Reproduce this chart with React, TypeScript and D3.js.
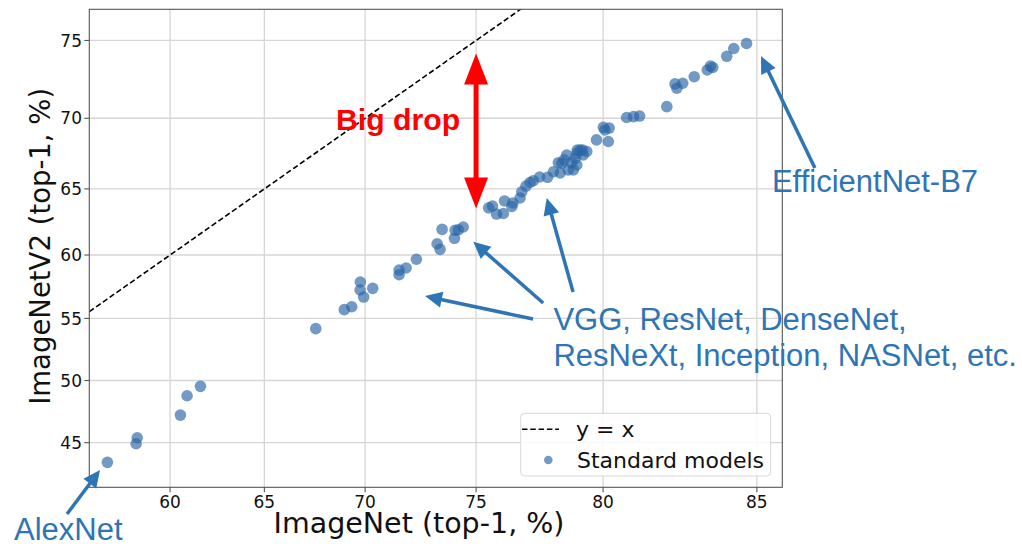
import React from 'react';
import * as d3 from 'd3';

// ImageNet (top-1, %) vs ImageNetV2 (top-1, %) for standard models
const imagenetTop1 = [
  56.55, 58.14, 58.2, 60.56, 60.92, 61.64, 67.6, 69.0, 69.36, 69.77, 69.76, 69.93, 70.36,
  71.59, 71.59, 71.91, 72.38, 73.31, 73.44, 73.53, 74.07, 74.1, 74.24, 74.45,
  75.53, 75.69, 75.86, 76.14, 76.19, 76.49, 76.53, 76.82, 76.89, 77.06, 77.22, 77.35,
  77.6, 77.91, 78.14, 78.33, 78.4, 78.46, 78.55, 78.65, 78.71, 78.84, 78.9, 78.97,
  79.03, 79.03, 79.05, 79.16, 79.25, 79.27, 79.4, 79.76, 80.01, 80.07, 80.22, 80.19,
  80.84, 81.08, 81.29, 82.21, 82.48, 82.54, 82.73, 83.1, 83.51, 83.61, 83.68, 84.11,
  84.32, 84.7,
];
const imagenetV2Top1 = [
  43.43, 44.91, 45.39, 47.21, 48.77, 49.53, 54.18, 55.7, 55.93, 57.89, 57.26, 56.7, 57.39,
  58.83, 58.46, 58.99, 59.67, 60.87, 60.44, 61.97, 61.29, 61.9, 61.94, 62.15,
  63.59, 63.73, 63.13, 63.17, 64.11, 63.7, 63.96, 64.33, 64.79, 65.21, 65.47, 65.6,
  65.87, 65.85, 66.25, 66.9, 66.16, 66.86, 67.1, 67.45, 66.38, 66.88, 66.38, 67.21,
  67.57, 66.74, 67.8, 67.8, 67.8, 67.45, 67.7, 68.51, 69.38, 69.2, 69.33, 68.4,
  70.05, 70.11, 70.15, 70.78, 72.28, 72.0, 72.32, 72.74, 73.17, 73.42, 73.33, 74.03,
  74.51, 74.82,
];
const xTicks = [60, 65, 70, 75, 80, 85];
const yTicks = [45, 50, 55, 60, 65, 70, 75];
const xDomain = [55.54, 85.72];
const yDomain = [41.46, 76.84];

// annotations in data coordinates
const bigDropArrow = { x: 75, y1: 74.2, y2: 63.55 };
const bigDropLabel = { x: 68.6, y: 69.2, text: 'Big drop' };
const effLabel = { x: 85.43, y: 64.75, text: 'EfficientNet-B7' };
const effArrow = { x1: 86.6, y1: 66.52, x2: 85.12, y2: 74.04 };
const vggLines = ['VGG, ResNet, DenseNet,', 'ResNeXt, Inception, NASNet, etc.'];
const vggLabel = { x: 78.14, y: [54.07, 51.17] };
const vggArrows = [
  { x1: 77.34, y1: 54.95, x2: 72.77, y2: 56.78 },
  { x1: 77.74, y1: 56.23, x2: 74.88, y2: 61.03 },
  { x1: 78.89, y1: 57.1, x2: 77.88, y2: 64.33 },
];
const alexLabel = { x: 51.3, y: 37.39, text: 'AlexNet' };
const alexArrow = { x1: 54.29, y1: 39.38, x2: 56.14, y2: 42.82 };

const W = 1022;
const H = 544;
const L = 89.3, R = 782.3, T = 9.3, B = 487.3;

const logit = (p: number) => Math.log(p / (100 - p));
const xLin = d3.scaleLinear().domain(xDomain.map(logit)).range([L, R]);
const yLin = d3.scaleLinear().domain(yDomain.map(logit)).range([B, T]);
const sx = (v: number) => xLin(logit(v));
const sy = (v: number) => yLin(logit(v));

const BLUE = '#2e75b6';
const DOT = '#2b66a6';

function Arrow({ x1, y1, x2, y2, color, width, headLen, headHalf, both = false }: any) {
  const dx = x2 - x1, dy = y2 - y1;
  const len = Math.hypot(dx, dy);
  const ux = dx / len, uy = dy / len;
  const px = -uy, py = ux;
  const head = (tx: number, ty: number, dirx: number, diry: number) => {
    const bx = tx - dirx * headLen, by = ty - diry * headLen;
    return `${tx},${ty} ${bx + px * headHalf},${by + py * headHalf} ${bx - px * headHalf},${by - py * headHalf}`;
  };
  const sx1 = both ? x1 + ux * (headLen - 2) : x1;
  const sy1 = both ? y1 + uy * (headLen - 2) : y1;
  return (
    <g>
      <line x1={sx1} y1={sy1} x2={x2 - ux * (headLen - 2)} y2={y2 - uy * (headLen - 2)} stroke={color} strokeWidth={width} />
      <polygon points={head(x2, y2, ux, uy)} fill={color} />
      {both && <polygon points={head(x1, y1, -ux, -uy)} fill={color} />}
    </g>
  );
}

export default function App() {
  const lo = Math.max(xDomain[0], yDomain[0]);
  const hi = Math.min(xDomain[1], yDomain[1]) + 5;
  const diag = d3.range(lo, hi, 0.25).map((v) => [v, v] as [number, number]);
  const diagLine = d3.line<[number, number]>().x((d) => sx(d[0])).y((d) => sy(d[1]));
  const pts = imagenetTop1.map((v, i) => [v, imagenetV2Top1[i]]);
  const tickFont = { fontFamily: 'DejaVu Sans', fontSize: 17, fill: '#111' };
  const annFont = { fontFamily: 'Liberation Sans, Arial, sans-serif', fontSize: 31, fill: BLUE };

  return (
    <svg width={W} height={H} style={{ position: 'absolute', left: 0, top: 0, background: '#fff' }}>
      <defs>
        <clipPath id="plot">
          <rect x={L} y={T} width={R - L} height={B - T} />
        </clipPath>
      </defs>
      <rect x={0} y={0} width={W} height={H} fill="#fff" />
      {/* grid */}
      {xTicks.map((t) => (
        <line key={'gx' + t} x1={sx(t)} x2={sx(t)} y1={T} y2={B} stroke="#d6d6d6" strokeWidth={1.3} />
      ))}
      {yTicks.map((t) => (
        <line key={'gy' + t} x1={L} x2={R} y1={sy(t)} y2={sy(t)} stroke="#d6d6d6" strokeWidth={1.3} />
      ))}
      {/* y = x */}
      <path d={diagLine(diag) || ''} fill="none" stroke="#000" strokeWidth={1.6} strokeDasharray="5.5,2.8" clipPath="url(#plot)" />
      {/* points */}
      <g clipPath="url(#plot)">
        {pts.map((d, i) => (
          <circle key={i} cx={sx(d[0])} cy={sy(d[1])} r={5.8} fill={DOT} fillOpacity={0.66} />
        ))}
      </g>
      {/* frame */}
      <rect x={L} y={T} width={R - L} height={B - T} fill="none" stroke="#555" strokeWidth={1.1} />
      {/* ticks */}
      {xTicks.map((t) => (
        <g key={'tx' + t}>
          <line x1={sx(t)} x2={sx(t)} y1={B} y2={B + 5} stroke="#555" strokeWidth={1.1} />
          <text x={sx(t)} y={508} textAnchor="middle" {...tickFont}>{t}</text>
        </g>
      ))}
      {yTicks.map((t) => (
        <g key={'ty' + t}>
          <line x1={L - 5} x2={L} y1={sy(t)} y2={sy(t)} stroke="#555" strokeWidth={1.1} />
          <text x={82} y={sy(t)} dy="0.36em" textAnchor="end" {...tickFont}>{t}</text>
        </g>
      ))}
      {/* axis labels */}
      <text x={419} y={533} textAnchor="middle" fontFamily="DejaVu Sans" fontSize={28.5} fill="#111">
        ImageNet (top-1, %)
      </text>
      <text transform={`translate(50,${(T + B) / 2 - 2}) rotate(-90)`} textAnchor="middle" fontFamily="DejaVu Sans" fontSize={27.5} fill="#111">
        ImageNetV2 (top-1, %)
      </text>
      {/* legend */}
      <g>
        <rect x={520.7} y={413.3} width={250} height={62.7} rx={4} fill="#fff" fillOpacity={0.85} stroke="#d8d8d8" strokeWidth={1} />
        <line x1={522} x2={559} y1={429.3} y2={429.3} stroke="#000" strokeWidth={1.6} strokeDasharray="5.5,2.8" />
        <text x={576} y={437} fontFamily="DejaVu Sans" fontSize={22} fill="#111">y = x</text>
        <circle cx={548.3} cy={460} r={4.3} fill={DOT} fillOpacity={0.66} />
        <text x={577} y={468} fontFamily="DejaVu Sans" fontSize={22} fill="#111">Standard models</text>
      </g>
      {/* annotations */}
      <Arrow x1={sx(bigDropArrow.x)} y1={sy(bigDropArrow.y1)} x2={sx(bigDropArrow.x)} y2={sy(bigDropArrow.y2)} color="#ff0000" width={5} headLen={31} headHalf={12} both />
      <text x={sx(bigDropLabel.x)} y={sy(bigDropLabel.y)} fontFamily="Liberation Sans, Arial, sans-serif" fontWeight="bold" fontSize={29} fill="#ff0000" textLength={124} lengthAdjust="spacingAndGlyphs">
        {bigDropLabel.text}
      </text>
      <Arrow x1={sx(effArrow.x1)} y1={sy(effArrow.y1)} x2={sx(effArrow.x2)} y2={sy(effArrow.y2)} color={BLUE} width={3.5} headLen={17} headHalf={8} />
      <text x={sx(effLabel.x)} y={sy(effLabel.y)} {...annFont}>{effLabel.text}</text>
      {vggArrows.map((a, i) => (
        <Arrow key={'va' + i} x1={sx(a.x1)} y1={sy(a.y1)} x2={sx(a.x2)} y2={sy(a.y2)} color={BLUE} width={3.5} headLen={17} headHalf={8} />
      ))}
      {vggLines.map((s, i) => (
        <text key={'vl' + i} x={sx(vggLabel.x)} y={sy(vggLabel.y[i])} {...annFont}>{s}</text>
      ))}
      <Arrow x1={sx(alexArrow.x1)} y1={sy(alexArrow.y1)} x2={sx(alexArrow.x2)} y2={sy(alexArrow.y2)} color={BLUE} width={3.5} headLen={17} headHalf={8} />
      <text x={sx(alexLabel.x)} y={sy(alexLabel.y)} {...annFont}>{alexLabel.text}</text>
    </svg>
  );
}
